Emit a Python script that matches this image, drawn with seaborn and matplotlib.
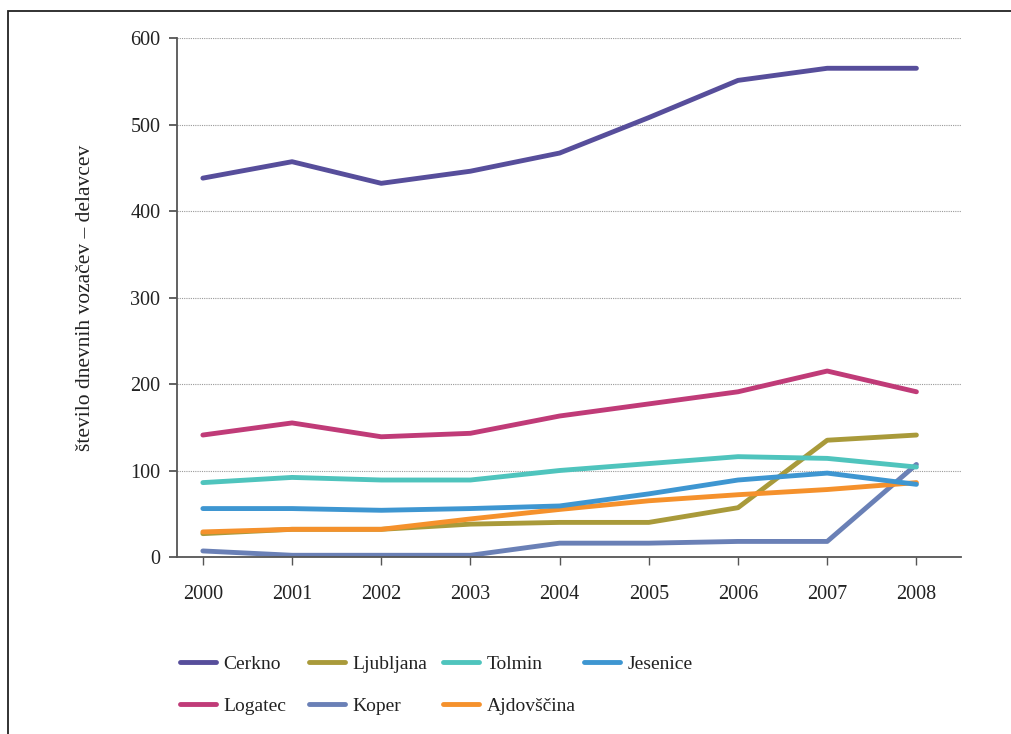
import pandas as pd
import matplotlib
matplotlib.use("Agg")
import matplotlib.pyplot as plt
import seaborn as sns
from matplotlib.patches import Rectangle

# podatki (odčitano s slike)
leta = [2000, 2001, 2002, 2003, 2004, 2005, 2006, 2007, 2008]
cerkno = [438, 457, 432, 446, 467, 508, 551, 565, 565]
logatec = [141, 155, 139, 143, 163, 177, 191, 215, 191]
ljubljana = [27, 32, 32, 38, 40, 40, 57, 135, 141]
koper = [7, 2, 2, 2, 16, 16, 18, 18, 107]
tolmin = [86, 92, 89, 89, 100, 108, 116, 114, 104]
ajdovscina = [29, 32, 32, 44, 55, 65, 72, 78, 86]
jesenice = [56, 56, 54, 56, 59, 73, 89, 97, 84]

# vrstni red za legendo (stolpci: 2 + 2 + 2 + 1)
kraji = ["Cerkno", "Logatec", "Ljubljana", "Koper", "Tolmin", "Ajdovščina", "Jesenice"]
vrednosti = [cerkno, logatec, ljubljana, koper, tolmin, ajdovscina, jesenice]
barve = ["#574e9b", "#c03b78", "#a99a3a", "#6a80b6", "#4fc4bd", "#f5912c", "#3e96d1"]

df = pd.concat(
    [pd.DataFrame({"leto": leta, "vozaci": v, "kraj": k}) for k, v in zip(kraji, vrednosti)],
    ignore_index=True,
)

sns.set_style("white")
plt.rcParams["font.family"] = ["Liberation Serif", "DejaVu Serif"]

fig = plt.figure(figsize=(10.11, 7.34), dpi=100)
W, H = 1011, 734
ax = fig.add_axes([177 / W, 1 - 557 / H, (961 - 177) / W, (557 - 38) / H])

sns.lineplot(data=df, x="leto", y="vozaci", hue="kraj", hue_order=kraji,
             palette=dict(zip(kraji, barve)), linewidth=3.5, ax=ax, legend=False)

ax.set_xlim(1999.71, 2008.5)
ax.set_ylim(0, 600)
ax.set_xticks(leta)
ax.set_yticks(range(0, 601, 100))
ax.yaxis.grid(True, linestyle=(0, (1, 1)), color="#999999", linewidth=0.8)
ax.set_axisbelow(True)

for s in ["top", "right"]:
    ax.spines[s].set_visible(False)
for s in ["left", "bottom"]:
    ax.spines[s].set_color("#555555")
    ax.spines[s].set_linewidth(1.3)

ax.tick_params(axis="y", length=6, width=1.3, color="#555555", labelsize=14.5,
               labelcolor="#222222", pad=6, left=True)
ax.tick_params(axis="x", length=6, width=1.0, color="#555555", labelsize=14.5,
               labelcolor="#222222", pad=14, bottom=True)

ax.set_xlabel("")
ax.set_ylabel("število dnevnih vozačev – delavcev", fontsize=15.5, color="#222222", labelpad=25)

# legenda: štirje stolpci, vsak posebej
stolpci_x = [180, 309, 443, 584]
for i, x0 in enumerate(stolpci_x):
    idx = [j for j in (2 * i, 2 * i + 1) if j < len(kraji)]
    handles = [plt.Line2D([], [], color=barve[j], linewidth=3.5) for j in idx]
    leg = fig.legend(handles, [kraji[j] for j in idx], loc="upper left", frameon=False,
                     bbox_to_anchor=(x0 / W, 1 - 655 / H), fontsize=14,
                     handlelength=1.85, handletextpad=0.4, labelspacing=1.25,
                     borderpad=0, borderaxespad=0)
    for t in leg.get_texts():
        t.set_color("#222222")

# okvir
fig.patches.append(Rectangle((8 / W, -0.05), 1.1, 1 - 11 / H + 0.05,
                             transform=fig.transFigure, fill=False,
                             edgecolor="#222222", linewidth=1.3))

fig.savefig("out.png", dpi=100)
